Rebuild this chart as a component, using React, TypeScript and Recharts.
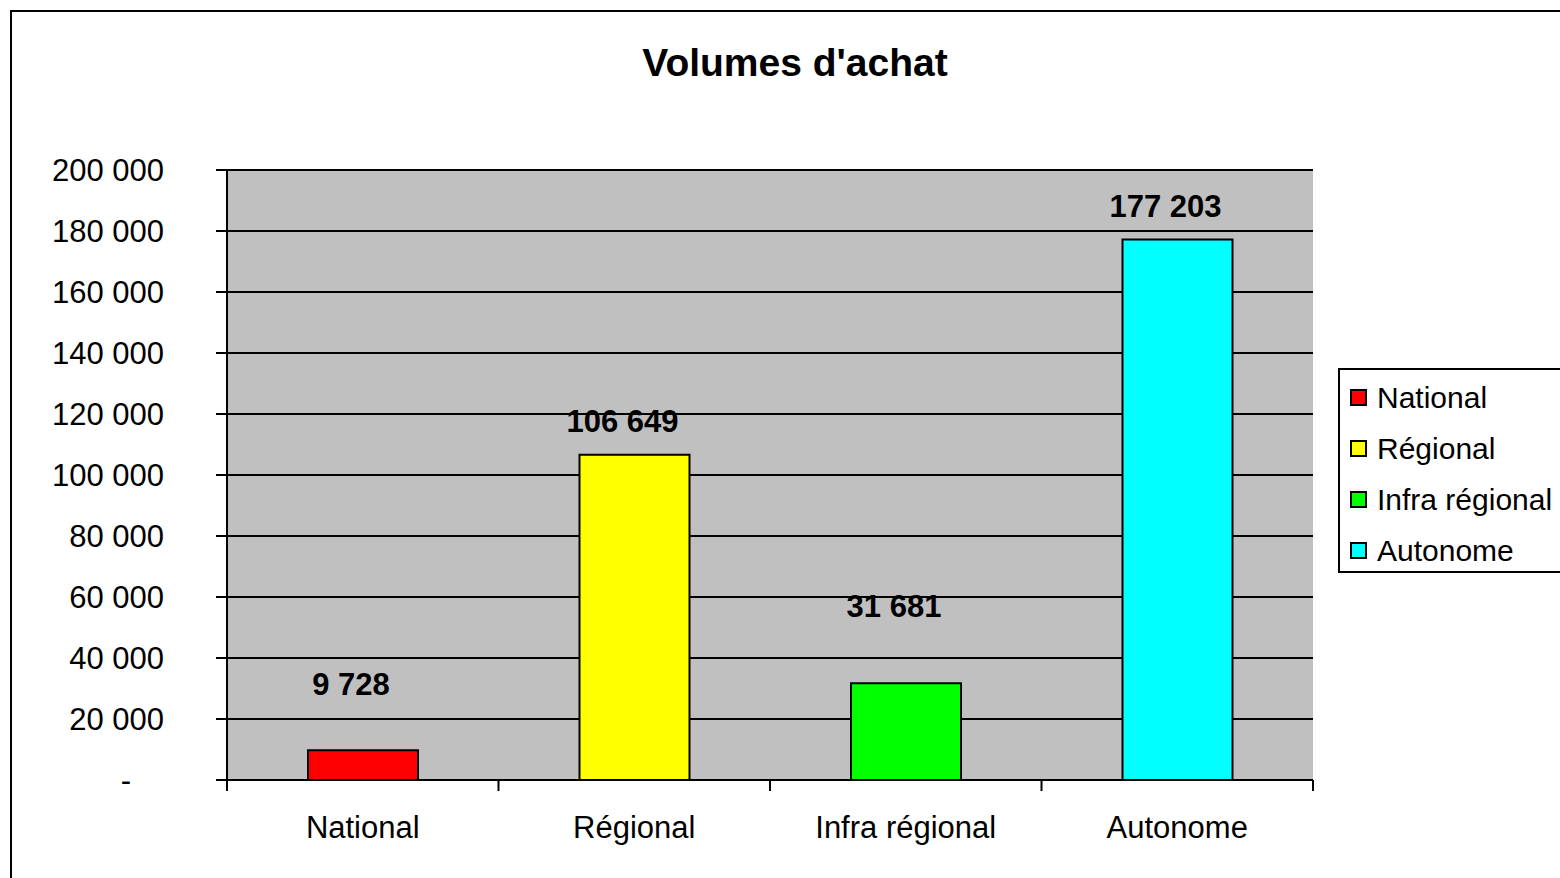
import React from "react";
import {
  BarChart,
  Bar,
  XAxis,
  YAxis,
  CartesianGrid,
  LabelList,
  Cell,
} from "recharts";

// données
const categories = ["National", "Régional", "Infra régional", "Autonome"];
const volumes = [9728, 106649, 31681, 177203];
const colors = ["#FF0000", "#FFFF00", "#00FF00", "#00FFFF"];
const yTicks = [0, 20000, 40000, 60000, 80000, 100000, 120000, 140000, 160000, 180000, 200000];

// décalage vertical des étiquettes (style Excel)
const labelLift = [55, 23, 66, 23];

const data = categories.map((name, i) => ({ name, value: volumes[i] }));

const FONT = "'Liberation Sans', Arial, sans-serif";

const fmt = (v: number) => String(v).replace(/\B(?=(\d{3})+(?!\d))/g, " ");

const YTick = (props: any) => {
  const { x, y, payload } = props;
  const v = payload.value as number;
  return (
    <text
      x={v === 0 ? x - 33 : x}
      y={y}
      textAnchor="end"
      dominantBaseline="central"
      fontFamily={FONT}
      fontSize={31}
      fill="#000"
    >
      {v === 0 ? "-" : fmt(v)}
    </text>
  );
};

const XTick = (props: any) => {
  const { x, y, payload, index, width, visibleTicksCount } = props;
  const band = (width || 1086) / (visibleTicksCount || categories.length);
  const left = x - band / 2;
  const right = x + band / 2;
  return (
    <g>
      <line x1={left} x2={left} y1={y} y2={y + 11} stroke="#000" strokeWidth={2} />
      {index === categories.length - 1 && (
        <line x1={right} x2={right} y1={y} y2={y + 11} stroke="#000" strokeWidth={2} />
      )}
      <text
        x={x}
        y={y + 47}
        textAnchor="middle"
        dominantBaseline="central"
        fontFamily={FONT}
        fontSize={31}
        fill="#000"
      >
        {payload.value}
      </text>
    </g>
  );
};

const ValueLabel = (props: any) => {
  const { x, y, width, value, index } = props;
  return (
    <text
      x={x + width / 2 - 12}
      y={y - labelLift[index]}
      textAnchor="middle"
      fontFamily={FONT}
      fontSize={31}
      fontWeight="bold"
      fill="#000"
    >
      {fmt(value)}
    </text>
  );
};

const LegendBox = () => (
  <div
    style={{
      position: "absolute",
      left: 1338,
      top: 368,
      border: "2px solid #000",
      background: "#fff",
      width: 240,
      height: 199,
      paddingTop: 2,
      fontFamily: FONT,
      fontSize: 30,
    }}
  >
    {categories.map((c, i) => (
      <div
        key={c}
        style={{ height: 51, display: "flex", alignItems: "center", whiteSpace: "nowrap" }}
      >
        <span
          style={{
            display: "inline-block",
            width: 13,
            height: 13,
            border: "2px solid #000",
            background: colors[i],
            marginLeft: 10,
            marginRight: 10,
          }}
        />
        <span>{c}</span>
      </div>
    ))}
  </div>
);

export default function App() {
  return (
    <div
      style={{
        position: "absolute",
        top: 0,
        left: 0,
        width: 1560,
        height: 878,
        overflow: "hidden",
        background: "#fff",
        fontFamily: FONT,
      }}
    >
      <div
        style={{
          position: "absolute",
          left: 10,
          top: 10,
          width: 1700,
          height: 1000,
          border: "2px solid #000",
        }}
      />
      <div
        style={{
          position: "absolute",
          left: 0,
          top: 40,
          width: 1590,
          textAlign: "center",
          fontSize: 39,
          fontWeight: "bold",
          lineHeight: "46px",
        }}
      >
        Volumes d'achat
      </div>
      <div style={{ position: "absolute", left: 0, top: 0 }}>
        <BarChart
          width={1560}
          height={878}
          data={data}
          margin={{ top: 170, right: 247, bottom: 38, left: 0 }}
          barSize={110}
        >
          <CartesianGrid
            vertical={false}
            stroke="#000"
            strokeWidth={2}
            fill="#C0C0C0"
            fillOpacity={1}
          />
          <XAxis
            dataKey="name"
            height={60}
            axisLine={{ stroke: "#000", strokeWidth: 2 }}
            tickLine={false}
            tickSize={0}
            tickMargin={0}
            tick={<XTick />}
            interval={0}
          />
          <XAxis
            xAxisId="top"
            orientation="top"
            dataKey="name"
            height={0}
            tick={false}
            tickLine={false}
            axisLine={{ stroke: "#808080", strokeWidth: 2 }}
          />
          <YAxis
            width={227}
            domain={[0, 200000]}
            ticks={yTicks}
            interval={0}
            tickSize={11}
            tickMargin={52}
            axisLine={{ stroke: "#000", strokeWidth: 2 }}
            tickLine={{ stroke: "#000", strokeWidth: 2 }}
            tick={<YTick />}
          />
          <YAxis
            yAxisId="right"
            orientation="right"
            width={0}
            domain={[0, 200000]}
            tick={false}
            tickLine={false}
            axisLine={{ stroke: "#808080", strokeWidth: 2 }}
          />
          <Bar dataKey="value" stroke="#000" strokeWidth={2} isAnimationActive={false}>
            {data.map((d, i) => (
              <Cell key={d.name} fill={colors[i]} />
            ))}
            <LabelList dataKey="value" content={<ValueLabel />} />
          </Bar>
        </BarChart>
      </div>
      <LegendBox />
    </div>
  );
}
